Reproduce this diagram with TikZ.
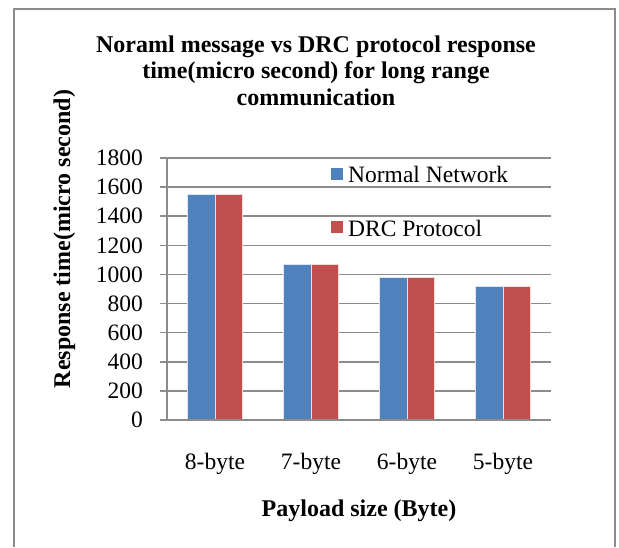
\documentclass[tikz,border=0pt]{standalone}
\usepackage{fontspec}
\setmainfont{Liberation Serif}
\definecolor{netblue}{HTML}{4F81BD}
\definecolor{drcred}{HTML}{C0504D}
\definecolor{gridgray}{HTML}{8C8C8C}
\tikzset{
  frameline/.style={draw=gridgray, line width=2pt},
  gridline/.style={draw=gridgray, line width=1.5pt},
  bluebar/.style={fill=netblue, draw=white!80!netblue, line width=0.6pt},
  redbar/.style={fill=drcred, draw=white!80!drcred, line width=0.6pt},
  txt/.style={font=\fontsize{23.5}{26.5}\selectfont, inner sep=0pt},
  boldtxt/.style={font=\fontsize{24}{26.5}\selectfont\bfseries, inner sep=0pt},
}
\begin{document}
\begin{tikzpicture}[x=1pt, y=-1pt]
\useasboundingbox (0,0) rectangle (619,547);
% outer chart frame (open at the bottom)
\draw[frameline] (14,547) -- (14,9) -- (615,9) -- (615,547);

% title (base anchor sits on the last line)
\node[boldtxt, align=center, anchor=base] (title) at (316,105)
  {Noraml message vs DRC protocol response\\time(micro second) for long range\\communication};

% gridlines, ticks and value labels (0 .. 1800 step 200); 262pt span for 1800
\foreach \v [count=\i from 0] in {0,200,...,1800} {
  \pgfmathsetmacro{\yy}{420-\v/1800*262}
  \draw[gridline] (160,\yy) -- (551,\yy);
  \node[txt, anchor=east] (yl\i) at (143,\yy) {\v};
}
% vertical value axis
\draw[gridline] (167,158) -- (167,420);

% bars: pairs of (normal network, DRC protocol)
\foreach \val/\cx in {1553/215,1072/311,982/407,918/503} {
  \pgfmathsetmacro{\bartop}{420-\val/1800*262}
  \path[bluebar] (\cx-27.5,420) rectangle (\cx,\bartop);
  \path[redbar]  (\cx,420) rectangle (\cx+27.5,\bartop);
}
% redraw the base axis above the bars
\draw[gridline] (160,420) -- (551,420);

% category labels
\node[txt, anchor=base] (c8) at (215,469) {8-byte};
\node[txt, anchor=base] (c7) at (311,469) {7-byte};
\node[txt, anchor=base] (c6) at (407,469) {6-byte};
\node[txt, anchor=base] (c5) at (503,469) {5-byte};

% axis titles
\node[boldtxt, anchor=base] (xtitle) at (359,516) {Payload size (Byte)};
\node[boldtxt, anchor=base, rotate=90] (ytitle) at (70,239) {Response time(micro second)};

% legend
\fill[netblue] (331,168) rectangle (343,180);
\node[txt, anchor=west] (lg1) at (348,174) {Normal Network};
\fill[drcred] (331,221) rectangle (343,233);
\node[txt, anchor=west] (lg2) at (348,228) {DRC Protocol};
\end{tikzpicture}
\end{document}
